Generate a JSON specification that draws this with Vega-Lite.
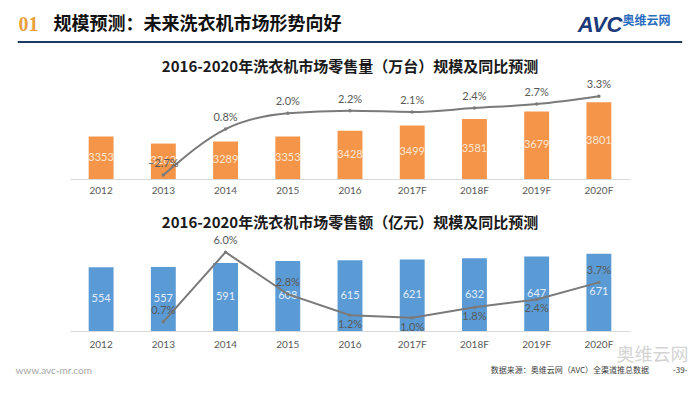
{
  "$schema": "https://vega.github.io/schema/vega-lite/v6.json",
  "padding": {"left": 15, "right": 5, "top": 13, "bottom": 0},
  "background": "white",
  "columns": 1,
  "center": false,
  "spacing": 13,
  "config": {
    "font": "Noto Sans CJK SC",
    "view": {"stroke": null},
    "axis": {"grid": false}
  },
  "data": {
    "values": [
      {"year": "2012", "vol": 3353, "volg": null, "amt": 554, "amtg": null},
      {"year": "2013", "vol": 3262, "volg": -0.027, "amt": 557, "amtg": 0.007},
      {"year": "2014", "vol": 3289, "volg": 0.008, "amt": 591, "amtg": 0.060},
      {"year": "2015", "vol": 3353, "volg": 0.020, "amt": 608, "amtg": 0.028},
      {"year": "2016", "vol": 3428, "volg": 0.022, "amt": 615, "amtg": 0.012},
      {"year": "2017F", "vol": 3499, "volg": 0.021, "amt": 621, "amtg": 0.010},
      {"year": "2018F", "vol": 3581, "volg": 0.024, "amt": 632, "amtg": 0.018},
      {"year": "2019F", "vol": 3679, "volg": 0.027, "amt": 647, "amtg": 0.024},
      {"year": "2020F", "vol": 3801, "volg": 0.033, "amt": 671, "amtg": 0.037}
    ]
  },
  "concat": [
    {
      "width": 560,
      "height": 1,
      "layer": [
        {
          "mark": {"type": "rule", "color": "#1f3a5f", "strokeWidth": 2},
          "encoding": {
            "x": {"datum": -0.0929, "type": "quantitative", "scale": {"domain": [0, 1], "nice": false, "zero": false}, "axis": null},
            "x2": {"datum": 1.0929},
            "y": {"datum": 0, "type": "quantitative", "scale": {"domain": [0, 1]},
              "axis": {"orient": "left", "minExtent": 0, "maxExtent": 0, "title": "01", "titleAngle": 0, "titleX": -52, "titleY": -17, "titleAlign": "left", "titleBaseline": "middle", "titleColor": "#E8A040", "titleFontSize": 20, "titleFontWeight": "bold", "titleFont": "Liberation Sans Narrow", "labels": false, "ticks": false, "domain": false}}
          }
        },
        {
          "mark": {"type": "text", "text": ""},
          "encoding": {
            "x": {"datum": 0, "type": "quantitative",
              "axis": {"orient": "top", "minExtent": 0, "maxExtent": 0, "title": "规模预测：未来洗衣机市场形势向好", "titleX": -17, "titleY": -17, "titleAlign": "left", "titleBaseline": "middle", "titleColor": "#111111", "titleFontSize": 18, "titleFontWeight": "bold", "labels": false, "ticks": false, "domain": false}},
            "y": {"datum": 0, "type": "quantitative",
              "axis": {"orient": "right", "minExtent": 0, "maxExtent": 0, "title": "AVC", "titleAngle": 0, "titleX": -8, "titleY": -17, "titleAlign": "right", "titleBaseline": "middle", "titleColor": "#1b3a7a", "titleFontSize": 22, "titleFontWeight": "bold", "titleFontStyle": "italic", "titleFont": "Liberation Sans", "labels": false, "ticks": false, "domain": false}}
          }
        },
        {
          "mark": {"type": "text", "text": ""},
          "encoding": {
            "x": {"datum": 0, "type": "quantitative",
              "axis": {"orient": "bottom", "minExtent": 0, "maxExtent": 0, "title": "奥维云网", "titleX": 600, "titleY": -22, "titleAlign": "right", "titleBaseline": "middle", "titleColor": "#2a6cc0", "titleFontSize": 12, "titleFontWeight": "bold", "labels": false, "ticks": false, "domain": false}},
            "y": {"datum": 0, "type": "quantitative", "axis": null}
          }
        }
      ],
      "resolve": {"axis": {"x": "independent", "y": "independent"}}
    },
    {
      "width": 560,
      "height": 92,
      "title": {"text": "2016-2020年洗衣机市场零售量（万台）规模及同比预测", "fontSize": 15, "fontWeight": "bold", "color": "#1a1a1a", "offset": 4, "anchor": "middle", "frame": "group"},
      "encoding": {
        "x": {"field": "year", "type": "ordinal", "sort": null, "scale": {"paddingInner": 0.6, "paddingOuter": 0.3},
          "axis": {"title": null, "labelAngle": 0, "labelColor": "#595959", "labelFontSize": 10, "labelFont": "Lato", "labelPadding": 6, "ticks": false, "domainColor": "#d9d9d9"}}
      },
      "layer": [
        {
          "mark": {"type": "bar", "color": "#F5954A"},
          "encoding": {
            "y": {"field": "vol", "type": "quantitative", "scale": {"domain": [2800, 4000], "zero": false, "nice": false},
              "axis": {"orient": "left", "title": "www.avc-mr.com", "titleOpacity": 0, "titleAngle": 0, "titleX": -55, "titleY": 111, "titleAlign": "left", "titleBaseline": "middle", "titleFontSize": 10, "titleFont": "Lato", "labels": false, "ticks": false, "domain": false}},
            "y2": {"datum": 2800}
          }
        },
        {
          "mark": {"type": "text", "color": "#FCE6D2", "fontSize": 11, "font": "Lato", "baseline": "middle"},
          "encoding": {
            "y": {"field": "vol", "type": "quantitative", "scale": {"domain": [2800, 5200], "zero": false, "nice": false}, "axis": null},
            "text": {"field": "vol", "type": "quantitative", "format": "d"}
          }
        },
        {
          "transform": [{"filter": "datum.volg != null"}],
          "mark": {"type": "line", "color": "#7a7a7a", "strokeWidth": 2, "interpolate": "monotone", "point": {"filled": true, "size": 12, "color": "#7a7a7a"}},
          "encoding": {
            "y": {"field": "volg", "type": "quantitative", "scale": {"domain": [-0.03, 0.04], "zero": false, "nice": false}, "axis": null}
          }
        },
        {
          "transform": [{"filter": "datum.volg != null"}],
          "mark": {"type": "text", "color": "#595959", "fontSize": 11, "font": "Lato", "dy": -11, "baseline": "middle"},
          "encoding": {
            "y": {"field": "volg", "type": "quantitative", "scale": {"domain": [-0.03, 0.04], "zero": false, "nice": false}, "axis": null},
            "text": {"field": "volg", "type": "quantitative", "format": ".1%"}
          }
        }
      ],
      "resolve": {"scale": {"y": "independent"}}
    },
    {
      "width": 560,
      "height": 92,
      "title": {"text": "2016-2020年洗衣机市场零售额（亿元）规模及同比预测", "fontSize": 15, "fontWeight": "bold", "color": "#1a1a1a", "offset": 4, "anchor": "middle", "frame": "group"},
      "encoding": {
        "x": {"field": "year", "type": "ordinal", "sort": null, "scale": {"paddingInner": 0.6, "paddingOuter": 0.3},
          "axis": {"title": "奥维云网", "titleX": 582, "titleY": 24, "titleAlign": "center", "titleBaseline": "middle", "titleColor": "#d4d4d4", "titleFontSize": 18, "titleFontWeight": "normal", "labelAngle": 0, "labelColor": "#595959", "labelFontSize": 10, "labelFont": "Lato", "labelPadding": 8, "ticks": false, "domainColor": "#d9d9d9"}}
      },
      "layer": [
        {
          "mark": {"type": "bar", "color": "#5B9BD5"},
          "encoding": {
            "y": {"field": "amt", "type": "quantitative", "scale": {"domain": [0, 800], "nice": false},
              "axis": {"orient": "left", "title": "www.avc-mr.com", "titleAngle": 0, "titleX": -55, "titleY": 131, "titleAlign": "left", "titleBaseline": "middle", "titleColor": "#a6a6a6", "titleFontSize": 10, "titleFontWeight": "normal", "titleFont": "Lato", "labels": false, "ticks": false, "domain": false}}
          }
        },
        {
          "mark": {"type": "text", "color": "#E3EEF9", "fontSize": 11, "font": "Lato", "baseline": "middle"},
          "encoding": {
            "y": {"field": "amt", "type": "quantitative", "scale": {"domain": [0, 1600], "nice": false}, "axis": null},
            "text": {"field": "amt", "type": "quantitative", "format": "d"}
          }
        },
        {
          "transform": [{"filter": "datum.amtg != null"}],
          "mark": {"type": "line", "color": "#7a7a7a", "strokeWidth": 2, "interpolate": "linear", "point": {"filled": true, "size": 12, "color": "#7a7a7a"}},
          "encoding": {
            "y": {"field": "amtg", "type": "quantitative", "scale": {"domain": [0, 0.07], "nice": false},
              "axis": {"orient": "right", "title": "数据来源：奥维云网（AVC）全渠道推总数据\u2003\u2003\u2003-39-", "titleAngle": 0, "titleX": 57, "titleY": 131, "titleAlign": "right", "titleBaseline": "middle", "titleColor": "#404040", "titleFontSize": 8, "titleFontWeight": "normal", "labels": false, "ticks": false, "domain": false}}
          }
        },
        {
          "transform": [{"filter": {"field": "year", "oneOf": ["2013", "2014", "2015", "2020F"]}}],
          "mark": {"type": "text", "color": "#595959", "fontSize": 11, "font": "Lato", "dy": -11, "baseline": "middle"},
          "encoding": {
            "y": {"field": "amtg", "type": "quantitative", "scale": {"domain": [0, 0.07], "nice": false}, "axis": null},
            "text": {"field": "amtg", "type": "quantitative", "format": ".1%"}
          }
        },
        {
          "transform": [{"filter": {"field": "year", "oneOf": ["2016", "2017F", "2018F", "2019F"]}}],
          "mark": {"type": "text", "color": "#595959", "fontSize": 11, "font": "Lato", "dy": 10, "baseline": "middle"},
          "encoding": {
            "y": {"field": "amtg", "type": "quantitative", "scale": {"domain": [0, 0.07], "nice": false}, "axis": null},
            "text": {"field": "amtg", "type": "quantitative", "format": ".1%"}
          }
        }
      ],
      "resolve": {"scale": {"y": "independent"}}
    }
  ]
}
